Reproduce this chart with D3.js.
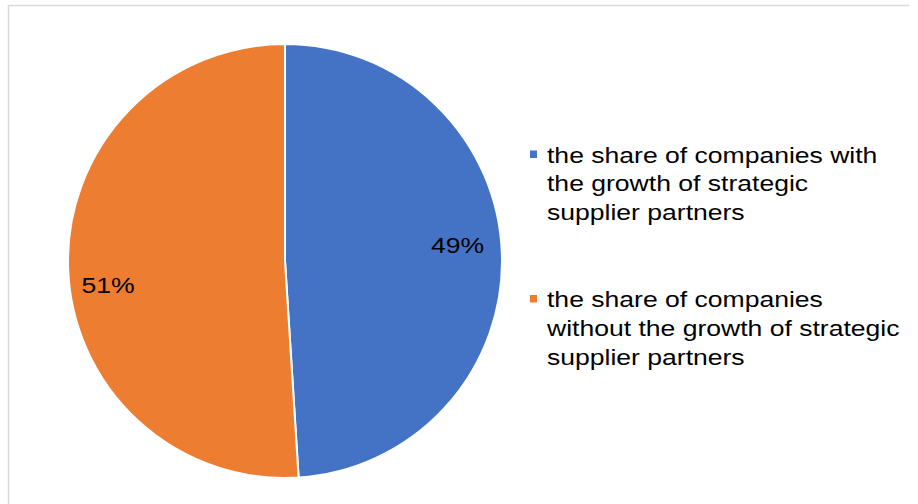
<!DOCTYPE html>
<html>
<head>
<meta charset="utf-8">
<script src="https://cdn.jsdelivr.net/npm/d3@7"></script>
<style>
  html, body { margin: 0; padding: 0; background: #fff; }
  svg { display: block; font-family: "Liberation Sans", Arial, sans-serif; }
</style>
</head>
<body>
<svg id="chart" width="918" height="504"></svg>
<script>
// Share of companies by strategic supplier partner growth
const categories = [
  "the share of companies with the growth of strategic supplier partners",
  "the share of companies without the growth of strategic supplier partners"
];
const values = [49, 51];
const valueLabels = ["49%", "51%"];
const legendLines = [
  ["the share of companies with", "the growth of strategic", "supplier partners"],
  ["the share of companies", "without the growth of strategic", "supplier partners"]
];
const colors = ["#4472C4", "#ED7D31"];

const svg = d3.select("#chart");
const fontSize = 22.5, stretch = 1.18;

// Chart area frame
svg.append("path")
  .attr("d", "M8.5,504 L8.5,5.5 L909,5.5")
  .attr("fill", "none")
  .attr("stroke", "#d9d9d9")
  .attr("stroke-width", 1.5);

const cx = 285, cy = 261, r = 217;

const pie = d3.pie().sort(null).value(d => d.value);
const arcs = pie(values.map((v, i) => ({ value: v, i })));
const arc = d3.arc().innerRadius(0).outerRadius(r);
const labelArc = d3.arc().innerRadius(r * 0.8).outerRadius(r * 0.8);
// small per-slice nudges for the percentage labels
const labelNudge = [[-1, -10.5], [-3.5, 18.5]];

const g = svg.append("g").attr("transform", `translate(${cx},${cy})`);

g.selectAll("path.slice")
  .data(arcs)
  .join("path")
  .attr("class", "slice")
  .attr("d", arc)
  .attr("fill", d => colors[d.data.i])
  .attr("stroke", "#fff")
  .attr("stroke-width", 2)
  .attr("stroke-linejoin", "round");

g.selectAll("text.val")
  .data(arcs)
  .join("text")
  .attr("class", "val")
  .attr("transform", d => {
    const [x, y] = labelArc.centroid(d);
    const [dx, dy] = labelNudge[d.data.i];
    return `translate(${x + dx},${y + dy}) scale(${stretch},1)`;
  })
  .attr("text-anchor", "middle")
  .attr("dominant-baseline", "central")
  .attr("font-size", fontSize)
  .attr("fill", "#000")
  .text(d => valueLabels[d.data.i]);

// Legend
const legendX = 547, legendTops = [162.5, 307], lineH = 29;
const lg = svg.append("g");
legendLines.forEach((lines, i) => {
  lg.append("rect")
    .attr("x", 530).attr("y", legendTops[i] - 12)
    .attr("width", 7).attr("height", 7.5)
    .attr("fill", colors[i]);
  const t = lg.append("text")
    .attr("transform", `translate(${legendX},${legendTops[i]}) scale(${stretch},1)`)
    .attr("font-size", fontSize)
    .attr("fill", "#000");
  lines.forEach((line, j) => {
    t.append("tspan")
      .attr("x", 0)
      .attr("y", j * lineH)
      .text(line);
  });
});
</script>
</body>
</html>
